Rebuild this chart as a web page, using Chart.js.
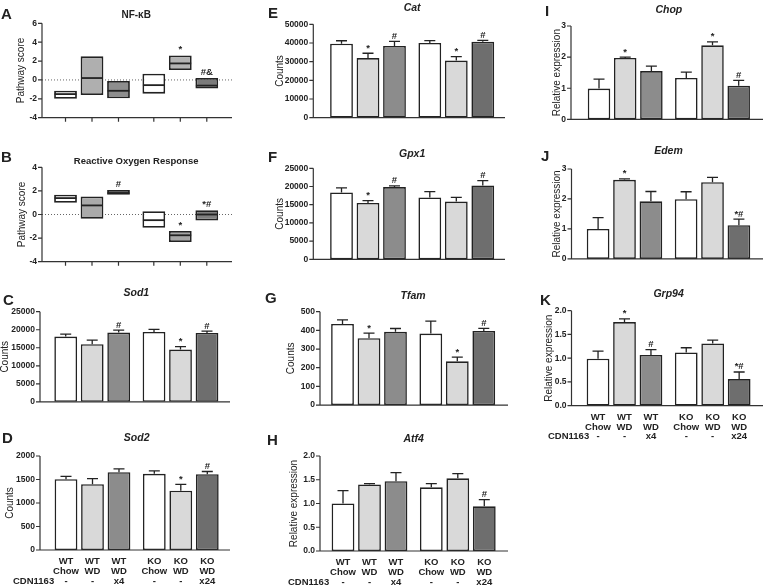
<!DOCTYPE html>
<html><head><meta charset="utf-8">
<script src="https://cdn.jsdelivr.net/npm/chart.js@4.4.1/dist/chart.umd.min.js"></script>
<style>
html,body{margin:0;padding:0;background:#fff;}
#fig{position:relative;width:765px;height:585px;overflow:hidden;background:#fff;}
#fig canvas{position:absolute;}
</style></head><body><div id="fig"></div>
<script>
// ---------- DATA ----------
const genotypes = ['WT', 'KO'];
const treatments = ['Chow', 'WD', 'WD + CDN1163'];
// bar order: WT Chow, WT WD, WT WD+CDN, KO Chow, KO WD, KO WD+CDN
const barGenotype = ['WT', 'WT', 'WT', 'KO', 'KO', 'KO'];
const barDiet = ['Chow', 'WD', 'WD', 'Chow', 'WD', 'WD'];
const barCdn = ['-', '-', 'x4', '-', '-', 'x24'];
const drugName = 'CDN1163';

const nfkbLow    = [-2.0, -1.6, -1.95, -1.45, 1.05, -0.9];
const nfkbHigh   = [-1.15, 2.5, -0.1, 0.65, 2.6, 0.2];
const nfkbMedian = [-1.5, 0.2, -1.15, -0.55, 1.75, -0.6];
const nfkbMarks  = ['', '', '', '', '*', '#&'];

const rosLow    = [1.0, -0.37, 1.67, -1.13, -2.33, -0.51];
const rosHigh   = [1.67, 1.53, 2.07, 0.28, -1.39, 0.37];
const rosMedian = [1.39, 0.77, 1.82, -0.48, -1.76, 0.0];
const rosMarks  = ['', '', '#', '', '*', '*#'];

const sod1Mean = [18100, 16000, 19200, 19400, 14500, 19100];
const sod1Sem  = [700, 1100, 700, 700, 800, 500];
const sod1Marks = ['', '', '#', '', '*', '#'];

const sod2Mean = [1505, 1400, 1655, 1620, 1262, 1612];
const sod2Sem  = [60, 120, 70, 65, 135, 58];
const sod2Marks = ['', '', '', '', '*', '#'];

const catMean = [39600, 31900, 38400, 40000, 30600, 40700];
const catSem  = [1600, 2600, 2500, 1300, 2100, 700];
const catMarks = ['', '*', '#', '', '*', '#'];

const gpx1Mean = [18350, 15500, 19850, 17000, 15850, 20300];
const gpx1Sem  = [1300, 600, 350, 1600, 1150, 1300];
const gpx1Marks = ['', '*', '#', '', '', '#'];

const tfamMean = [434, 358, 392, 383, 234, 397];
const tfamSem  = [22, 27, 18, 67, 23, 14];
const tfamMarks = ['', '*', '', '', '*', '#'];

const atf4Mean = [1.0, 1.40, 1.47, 1.34, 1.53, 0.94];
const atf4Sem  = [0.27, 0.02, 0.18, 0.08, 0.10, 0.14];
const atf4Marks = ['', '', '', '', '', '#'];

const chopMean = [0.99, 1.975, 1.55, 1.33, 2.38, 1.08];
const chopSem  = [0.30, 0.025, 0.16, 0.19, 0.11, 0.17];
const chopMarks = ['', '*', '', '', '*', '#'];

const edemMean = [1.0, 2.64, 1.92, 1.99, 2.56, 1.125];
const edemSem  = [0.38, 0.03, 0.33, 0.25, 0.16, 0.20];
const edemMarks = ['', '*', '', '', '', '*#'];

const grp94Mean = [0.99, 1.76, 1.07, 1.12, 1.31, 0.56];
const grp94Sem  = [0.16, 0.07, 0.11, 0.10, 0.07, 0.15];
const grp94Marks = ['', '*', '#', '', '', '*#'];

// ---------- STYLE ----------
const INK = '#222222';
const AXIS = '#333333';
const FONT = '"Liberation Sans", Arial, sans-serif';
const CAP = 5.5;
const barFills = ['#ffffff', '#d9d9d9', '#8c8c8c', '#ffffff', '#d9d9d9', '#6e6e6e'];
const nfkbFills = ['#ffffff', '#afafaf', '#8e8e8e', '#ffffff', '#b3b3b3', '#7b7b7b'];
const rosFills = ['#ffffff', '#aaaaaa', '#6e6e6e', '#ffffff', '#a5a5a5', '#7f7f7f'];

Chart.defaults.font.family = FONT;
Chart.defaults.color = INK;

const fig = document.getElementById('fig');
const fmtInt = v => String(v);
const fmt1 = v => Number(v).toFixed(1);

function makePrism(p) {
  const rx = p.rect[0], ry = p.rect[1];
  const ax = p.axisX - rx, ae = p.axisEnd - rx;
  return {
    id: 'prism' + p.letter,
    beforeDatasetsDraw(chart) {
      if (p.kind !== 'box') return;
      const ctx = chart.ctx, y0 = chart.scales.y.getPixelForValue(0);
      ctx.save(); ctx.strokeStyle = '#666'; ctx.lineWidth = 1; ctx.setLineDash([1, 2]);
      ctx.beginPath(); ctx.moveTo(ax, y0); ctx.lineTo(ae, y0); ctx.stroke(); ctx.restore();
    },
    afterDatasetsDraw(chart) {
      const ctx = chart.ctx, ys = chart.scales.y, ca = chart.chartArea;
      const bars = [];
      for (let g = 0; g < 2; g++) for (let d = 0; d < 3; d++) bars.push(chart.getDatasetMeta(d).data[g]);
      ctx.save();
      ctx.strokeStyle = INK; ctx.fillStyle = INK;
      const tops = bars.map(b => Math.min(b.y, b.base));
      if (p.kind === 'box') {
        ctx.lineWidth = 1.8;
        bars.forEach((b, i) => {
          const py = ys.getPixelForValue(p.median[i]);
          ctx.beginPath(); ctx.moveTo(b.x - b.width / 2 + 0.5, py); ctx.lineTo(b.x + b.width / 2 - 0.5, py); ctx.stroke();
        });
      } else {
        ctx.lineWidth = 1.3;
        bars.forEach((b, i) => {
          const py = ys.getPixelForValue(p.mean[i] + p.sem[i]);
          ctx.beginPath();
          ctx.moveTo(b.x, tops[i]); ctx.lineTo(b.x, py);
          ctx.moveTo(b.x - CAP, py); ctx.lineTo(b.x + CAP, py);
          ctx.stroke();
          tops[i] = py;
        });
      }
      // axes
      const yb = ca.bottom;
      ctx.lineWidth = 1.2; ctx.strokeStyle = AXIS;
      ctx.beginPath();
      ctx.moveTo(ax, ca.top); ctx.lineTo(ax, yb); ctx.lineTo(ae, yb);
      ys.ticks.forEach(t => { const py = ys.getPixelForValue(t.value); ctx.moveTo(ax - 4, py); ctx.lineTo(ax, py); });
      if (p.kind === 'box') bars.forEach(b => { ctx.moveTo(b.x, yb); ctx.lineTo(b.x, yb + 4); });
      ctx.stroke();
      // significance marks
      ctx.font = 'bold 9.5px ' + FONT; ctx.textAlign = 'center'; ctx.textBaseline = 'alphabetic';
      bars.forEach((b, i) => { if (p.marks[i]) ctx.fillText(p.marks[i], b.x, tops[i] - (p.kind === 'box' ? 3 : 2.5)); });
      // group labels
      if (p.xLabels) {
        ctx.font = 'bold 9.5px ' + FONT; ctx.textBaseline = 'middle'; ctx.textAlign = 'center';
        bars.forEach((b, i) => {
          ctx.fillText(barGenotype[i], b.x, yb + 11.5);
          ctx.fillText(barDiet[i], b.x, yb + 21.5);
          ctx.fillText(barCdn[i], b.x, yb + 31);
        });
        ctx.textAlign = 'left';
        ctx.fillText(drugName, p.cdnX - rx, yb + 31);
      }
      // panel letter
      ctx.font = 'bold 15px ' + FONT; ctx.textAlign = 'left'; ctx.textBaseline = 'alphabetic';
      ctx.fillText(p.letter, p.letterXY[0] - rx, p.letterXY[1] - ry);
      ctx.restore();
    }
  };
}

function makePanel(p) {
  const [rx, ry, rw, rh] = p.rect;
  const cv = document.createElement('canvas');
  cv.width = rw; cv.height = rh;
  cv.style.left = rx + 'px'; cv.style.top = ry + 'px';
  cv.style.width = rw + 'px'; cv.style.height = rh + 'px';
  fig.appendChild(cv);
  const TL = p.titleSize * 1.2;
  const datasets = [0, 1, 2].map(t => ({
    label: treatments[t],
    data: [0, 1].map(g => p.kind === 'box' ? [p.low[g * 3 + t], p.high[g * 3 + t]] : p.mean[g * 3 + t]),
    backgroundColor: [0, 1].map(g => p.fills[g * 3 + t]),
    borderColor: INK,
    borderWidth: p.kind === 'box' ? 1.8 : 1.6,
    borderSkipped: false,
    categoryPercentage: 0.9,
    barPercentage: 0.86
  }));
  const ytp = Math.max(0, p.ytitleX - rx - 5);
  new Chart(cv, {
    type: 'bar',
    data: { labels: genotypes, datasets },
    options: {
      responsive: false, animation: false, devicePixelRatio: 1, events: [],
      layout: { padding: { left: 0, top: 0, right: rx + rw - p.area.r, bottom: ry + rh - p.area.b } },
      plugins: {
        legend: { display: false },
        tooltip: { enabled: false },
        title: {
          display: true, text: p.title, fullSize: false, color: INK,
          font: { size: p.titleSize, weight: 'bold', style: p.italic ? 'italic' : 'normal', lineHeight: 1.2 },
          padding: { top: p.titleY - ry - TL / 2, bottom: p.area.t - p.titleY - TL / 2 }
        }
      },
      scales: {
        x: { display: false },
        y: {
          min: p.yMin, max: p.yMax,
          afterFit: s => { s.width = p.area.l - rx; },
          ticks: { stepSize: p.step, padding: p.area.l - p.axisX + 5, color: INK,
                   font: { size: 8.5, weight: 'bold' }, callback: p.fmt },
          grid: { display: false, drawTicks: false },
          border: { display: false },
          title: { display: true, text: p.ytitle, color: INK, font: { size: 10, lineHeight: 1 },
                   padding: { top: ytp, bottom: ytp } }
        }
      }
    },
    plugins: [makePrism(p)]
  });
}

const panels = [
  { letter: 'A', kind: 'box', rect: [0, 0, 250, 140], area: { l: 47.85, r: 224.45, t: 23.3, b: 117.7 },
    axisX: 42, axisEnd: 232, yMin: -4, yMax: 6, step: 2, fmt: fmtInt,
    title: 'NF-κB', italic: false, titleSize: 10, titleY: 15, ytitle: 'Pathway score', ytitleX: 21, letterXY: [1, 18.5],
    low: nfkbLow, high: nfkbHigh, median: nfkbMedian, marks: nfkbMarks, fills: nfkbFills },
  { letter: 'B', kind: 'box', rect: [0, 140, 250, 145], area: { l: 47.85, r: 224.45, t: 167.3, b: 261.7 },
    axisX: 42, axisEnd: 232, yMin: -4, yMax: 4, step: 2, fmt: fmtInt,
    title: 'Reactive Oxygen Response', italic: false, titleSize: 9.5, titleY: 161, ytitle: 'Pathway score', ytitleX: 22, letterXY: [1, 162],
    low: rosLow, high: rosHigh, median: rosMedian, marks: rosMarks, fills: rosFills },
  { letter: 'C', kind: 'bar', rect: [0, 280, 250, 140], area: { l: 48.05, r: 224.65, t: 311.7, b: 405.7 },
    axisX: 40, axisEnd: 230, yMin: 0, yMax: 25000, step: 5000, fmt: fmtInt,
    title: 'Sod1', italic: true, titleSize: 10.5, titleY: 293, ytitle: 'Counts', ytitleX: 4.5, letterXY: [3, 305],
    mean: sod1Mean, sem: sod1Sem, marks: sod1Marks, fills: barFills },
  { letter: 'D', kind: 'bar', rect: [0, 420, 250, 165], area: { l: 48.35, r: 224.95, t: 456, b: 550 },
    axisX: 40, axisEnd: 230, yMin: 0, yMax: 2000, step: 500, fmt: fmtInt,
    title: 'Sod2', italic: true, titleSize: 10.5, titleY: 438, ytitle: 'Counts', ytitleX: 10, letterXY: [2, 443],
    mean: sod2Mean, sem: sod2Sem, marks: sod2Marks, fills: barFills, xLabels: true, cdnX: 13 },
  { letter: 'E', kind: 'bar', rect: [255, 0, 255, 140], area: { l: 323.85, r: 500.45, t: 24.3, b: 117.7 },
    axisX: 313.3, axisEnd: 505, yMin: 0, yMax: 50000, step: 10000, fmt: fmtInt,
    title: 'Cat', italic: true, titleSize: 10.5, titleY: 8.3, ytitle: 'Counts', ytitleX: 280, letterXY: [268, 18],
    mean: catMean, sem: catSem, marks: catMarks, fills: barFills },
  { letter: 'F', kind: 'bar', rect: [255, 140, 255, 140], area: { l: 323.85, r: 500.45, t: 168.3, b: 262.3 },
    axisX: 313.3, axisEnd: 505, yMin: 0, yMax: 25000, step: 5000, fmt: fmtInt,
    title: 'Gpx1', italic: true, titleSize: 10.5, titleY: 154, ytitle: 'Counts', ytitleX: 280, letterXY: [268, 162],
    mean: gpx1Mean, sem: gpx1Sem, marks: gpx1Marks, fills: barFills },
  { letter: 'G', kind: 'bar', rect: [255, 280, 255, 140], area: { l: 324.85, r: 501.45, t: 311.7, b: 405.7 },
    axisX: 320, axisEnd: 508, yMin: 0, yMax: 500, step: 100, fmt: fmtInt,
    title: 'Tfam', italic: true, titleSize: 10.5, titleY: 296, ytitle: 'Counts', ytitleX: 291, letterXY: [265, 303],
    mean: tfamMean, sem: tfamSem, marks: tfamMarks, fills: barFills },
  { letter: 'H', kind: 'bar', rect: [255, 420, 255, 165], area: { l: 325.35, r: 501.95, t: 456, b: 551 },
    axisX: 320, axisEnd: 508, yMin: 0, yMax: 2, step: 0.5, fmt: fmt1,
    title: 'Atf4', italic: true, titleSize: 10.5, titleY: 439, ytitle: 'Relative expression', ytitleX: 294, letterXY: [267, 445],
    mean: atf4Mean, sem: atf4Sem, marks: atf4Marks, fills: barFills, xLabels: true, cdnX: 288 },
  { letter: 'I', kind: 'bar', rect: [510, 0, 255, 140], area: { l: 581.55, r: 756.15, t: 26, b: 120.7 },
    axisX: 571, axisEnd: 763, yMin: 0, yMax: 3, step: 1, fmt: fmtInt,
    title: 'Chop', italic: true, titleSize: 10.5, titleY: 10, ytitle: 'Relative expression', ytitleX: 557.5, letterXY: [545, 16],
    mean: chopMean, sem: chopSem, marks: chopMarks, fills: barFills },
  { letter: 'J', kind: 'bar', rect: [510, 138, 255, 140], area: { l: 580.5, r: 756.5, t: 169, b: 262.3 },
    axisX: 571.5, axisEnd: 763, yMin: 0, yMax: 3, step: 1, fmt: fmtInt,
    title: 'Edem', italic: true, titleSize: 10.5, titleY: 151, ytitle: 'Relative expression', ytitleX: 557.5, letterXY: [541, 161],
    mean: edemMean, sem: edemSem, marks: edemMarks, fills: barFills },
  { letter: 'K', kind: 'bar', rect: [510, 278, 255, 172], area: { l: 580.4, r: 756.8, t: 310.7, b: 405.7 },
    axisX: 571.5, axisEnd: 763, yMin: 0, yMax: 2, step: 0.5, fmt: fmt1,
    title: 'Grp94', italic: true, titleSize: 10.5, titleY: 294, ytitle: 'Relative expression', ytitleX: 549, letterXY: [540, 305],
    mean: grp94Mean, sem: grp94Sem, marks: grp94Marks, fills: barFills, xLabels: true, cdnX: 548 }
];

panels.forEach(makePanel);
</script></body></html>
